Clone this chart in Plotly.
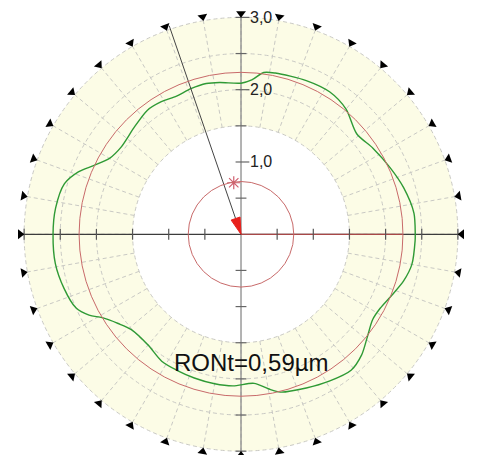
import numpy as np
import plotly.graph_objects as go

# ---- data ----
profile_angle_deg = [0, 7, 16, 24, 33, 41, 50, 58, 67, 78, 82, 86, 90, 98, 103, 109, 115, 121, 127,
                     135, 144, 150, 155, 159, 164, 172, 180, 189, 197, 204, 208, 211, 216, 221, 230,
                     238, 245, 252, 260, 267, 275, 280, 284, 293, 301, 309, 315, 321, 327, 332, 338,
                     344, 350, 358]
profile_radius = [2.41, 2.41, 2.34, 2.26, 2.18, 2.12, 2.26, 2.32, 2.31, 2.28, 2.26, 2.14, 2.09, 2.12,
                  2.14, 2.13, 2.11, 2.14, 2.15, 2.09, 2.05, 2.10, 2.25, 2.41, 2.54, 2.59, 2.60, 2.60,
                  2.56, 2.50, 2.38, 2.24, 2.10, 2.01, 2.00, 2.07, 2.08, 2.09, 2.10, 2.10, 2.07, 2.17,
                  2.25, 2.31, 2.37, 2.42, 2.36, 2.25, 2.17, 2.18, 2.25, 2.34, 2.40, 2.41]
reference_radius = 2.24
center_circle_radius = 0.73
band_inner_radius = 1.5
band_outer_radius = 3.0
grid_circle_radii = [1.5, 2.0, 2.5, 3.0]
spoke_angles_deg = list(range(0, 360, 10))
axis_extent = 3.05
axis_tick_values = [-3.0, -2.5, -2.0, -1.5, -1.0, -0.5, 0.5, 1.0, 1.5, 2.0, 2.5, 3.0]
axis_label_values = [1.0, 2.0, 3.0]
axis_label_texts = ["1,0", "2,0", "3,0"]
arrow_angle_deg = 109
arrow_length = 3.05
marker_angle_deg = 98
marker_radius = 0.72
caption_text = "RONt=0,59µm"

# ---- styles ----
BAND = "#fcfce6"
GRID = "#c9c9c4"
GREEN = "#2f9a35"
RED = "#c86a6a"
AXIS_H = "#3c3c3c"
AXIS_V = "#8a8a8a"
FONT = "Liberation Sans, Arial, sans-serif"

fig = go.Figure()

def pol(r, deg):
    a = np.deg2rad(deg)
    return r * np.cos(a), r * np.sin(a)

shapes = []
shapes.append(dict(type="circle", xref="x", yref="y", x0=-band_outer_radius, x1=band_outer_radius,
                   y0=-band_outer_radius, y1=band_outer_radius, fillcolor=BAND, line=dict(width=0),
                   layer="below"))
shapes.append(dict(type="circle", xref="x", yref="y", x0=-band_inner_radius, x1=band_inner_radius,
                   y0=-band_inner_radius, y1=band_inner_radius, fillcolor="white", line=dict(width=0),
                   layer="below"))
for r in grid_circle_radii:
    shapes.append(dict(type="circle", xref="x", yref="y", x0=-r, x1=r, y0=-r, y1=r,
                       line=dict(color=GRID, width=1, dash="4px,3px"), layer="below"))
for r in [reference_radius, center_circle_radius]:
    shapes.append(dict(type="circle", xref="x", yref="y", x0=-r, x1=r, y0=-r, y1=r,
                       line=dict(color=RED, width=1), layer="above"))

sx, sy = [], []
for d in spoke_angles_deg:
    x0, y0 = pol(band_inner_radius, d)
    x1, y1 = pol(band_outer_radius, d)
    sx += [x0, x1, None]
    sy += [y0, y1, None]
fig.add_trace(go.Scatter(x=sx, y=sy, mode="lines", line=dict(color=GRID, width=1, dash="4px,3px"),
                         hoverinfo="skip"))

fig.add_trace(go.Scatter(x=[0, 0], y=[-3.2, axis_extent], mode="lines",
                         line=dict(color=AXIS_V, width=1.3), hoverinfo="skip"))
fig.add_trace(go.Scatter(x=[-axis_extent, axis_extent], y=[0, 0], mode="lines",
                         line=dict(color=AXIS_H, width=1.3), hoverinfo="skip"))
fig.add_trace(go.Scatter(x=[0, reference_radius], y=[0, 0], mode="lines",
                         line=dict(color="#a84848", width=1.2), hoverinfo="skip"))

tl = 0.075
tx, ty = [], []
for v in axis_tick_values:
    tx += [v, v, None]
    ty += [-tl, tl, None]
fig.add_trace(go.Scatter(x=tx, y=ty, mode="lines", line=dict(color="#555555", width=1.2),
                         hoverinfo="skip"))
vx, vy = [], []
for v in axis_tick_values:
    vx += [-tl, tl + (0.04 if v in axis_label_values else 0), None]
    vy += [v, v, None]
fig.add_trace(go.Scatter(x=vx, y=vy, mode="lines", line=dict(color="#666666", width=1.2),
                         hoverinfo="skip"))

px_, py_ = pol(np.array(profile_radius + profile_radius[:1]),
               np.array(profile_angle_deg + profile_angle_deg[:1]))
fig.add_trace(go.Scatter(x=px_, y=py_, mode="lines", line=dict(color=GREEN, width=1.4,
                         shape="spline", smoothing=0.8), hoverinfo="skip"))

ax_, ay_ = pol(arrow_length, arrow_angle_deg)
fig.add_trace(go.Scatter(x=[ax_, 0], y=[ay_, 0], mode="lines", line=dict(color="#444444", width=1),
                         hoverinfo="skip"))
ux, uy = pol(1.0, arrow_angle_deg)
head_len, head_half = 0.23, 0.065
bx, by = ux * head_len, uy * head_len
nx, ny = -uy, ux
fig.add_trace(go.Scatter(x=[0, bx + nx * head_half, bx - nx * head_half, 0],
                         y=[0, by + ny * head_half, by - ny * head_half, 0],
                         mode="lines", fill="toself", fillcolor="#e8201c",
                         line=dict(color="#e8201c", width=1), hoverinfo="skip"))

mx, my = pol(marker_radius, marker_angle_deg)
fig.add_trace(go.Scatter(x=[mx], y=[my], mode="markers",
                         marker=dict(symbol="asterisk-open", size=11, color="#d06070",
                                     line=dict(color="#d06070", width=1.2)), hoverinfo="skip"))

tri_r = 3.055
tx2, ty2 = pol(tri_r, np.array(spoke_angles_deg))
fig.add_trace(go.Scatter(x=tx2, y=ty2, mode="markers",
                         marker=dict(symbol="triangle-down", size=8.5, color="black",
                                     angle=[90 - d for d in spoke_angles_deg]),
                         hoverinfo="skip"))

annotations = []
for v, t in zip(axis_label_values, axis_label_texts):
    annotations.append(dict(x=0.1, y=v, xref="x", yref="y", text=t, showarrow=False,
                            xanchor="left", yanchor="middle",
                            font=dict(family=FONT, size=16, color="#222222")))
annotations.append(dict(x=0.14, y=-1.77, xref="x", yref="y", text=caption_text, showarrow=False,
                        xanchor="center", yanchor="middle",
                        font=dict(family=FONT, size=24, color="#111111")))

# the page body has an 8px margin; the plot is sized and ranged so the centre lands at (241, 234)
fig.update_layout(
    width=471, height=447, margin=dict(l=0, r=0, t=0, b=0),
    paper_bgcolor="white", plot_bgcolor="white", showlegend=False,
    xaxis=dict(range=[-3.223, 3.292], visible=False, fixedrange=True),
    yaxis=dict(range=[-3.053, 3.130], visible=False, fixedrange=True),
    shapes=shapes, annotations=annotations,
)
fig.write_html("out.html")
